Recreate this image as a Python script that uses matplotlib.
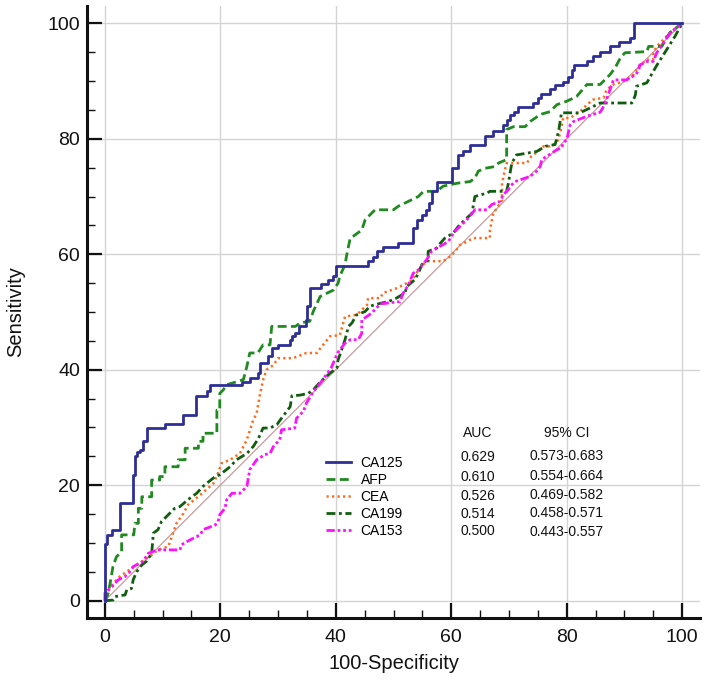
import matplotlib
matplotlib.use("Agg")
import matplotlib.pyplot as plt
from matplotlib.ticker import MultipleLocator

plt.rcParams['font.family'] = ['Liberation Sans', 'DejaVu Sans']

# ---------------- data ----------------
markers = ["CA125", "AFP", "CEA", "CA199", "CA153"]
auc = ["0.629", "0.610", "0.526", "0.514", "0.500"]
ci95 = ["0.573-0.683", "0.554-0.664", "0.469-0.582", "0.458-0.571", "0.443-0.557"]

# CA125: step points (x of jump, sensitivity after jump)
ca125_x = [0, 0, 0.4, 1.2, 2.7, 4.8, 5.2, 5.6, 6.1, 6.6, 7.3, 10.4, 13.5, 15.8, 17.7, 18.2,
           23.7, 25.1, 26.6, 26.9, 28.3, 28.9, 30.0, 32.1, 32.4, 32.9, 33.7, 34.9, 35.1, 35.5,
           37.5, 38.7, 39.6, 40.0, 45.6, 46.5, 47.2, 48.2, 50.8, 53.3, 54.1, 54.9, 55.6, 56.2,
           56.6, 57.6, 60.1, 61.2, 62.1, 63.3, 65.9, 67.3, 68.9, 69.6, 70.2, 70.8, 71.6, 74.2,
           75.1, 75.5, 77.1, 78.0, 79.4, 80.3, 80.9, 81.2, 83.5, 84.6, 85.8, 87.5, 89.0, 91.0,
           91.6, 100]
ca125_y = [0, 9.9, 11.4, 12.3, 16.9, 21.8, 25.0, 25.8, 26.1, 27.6, 29.9, 30.6, 32.2, 35.5, 36.3, 37.3,
           37.8, 38.5, 39.4, 41.1, 42.3, 43.7, 44.3, 45.1, 45.8, 46.3, 47.5, 48.6, 51.0, 54.1,
           54.9, 55.6, 56.2, 58.0, 58.8, 59.6, 60.5, 61.2, 62.0, 64.5, 66.0, 66.8, 67.7, 68.8,
           70.9, 72.6, 74.9, 77.2, 77.8, 79.0, 80.5, 81.3, 82.4, 83.2, 84.2, 84.7, 85.5, 86.2,
           87.1, 87.8, 88.6, 89.4, 89.9, 90.7, 92.0, 92.7, 93.4, 94.3, 95.1, 96.0, 96.7, 97.4,
           100, 100]

afp_x = [0, 0.5, 0.9, 1.4, 2.0, 2.9, 2.9, 5.0, 5.2, 5.8, 5.8, 6.4, 6.4, 8.1, 8.1, 9.5, 9.5, 10.4,
         10.4, 12.7, 12.7, 13.9, 13.9, 16.2, 16.2, 17.0, 17.0, 19.4, 19.4, 19.9, 19.9, 20.5, 21.1,
         23.1, 24.0, 24.6, 25.1, 26.5, 27.4, 28.6, 28.9, 33.0, 33.8, 35.5, 36.1, 37.3, 39.6, 40.4,
         40.7, 41.6, 41.9, 42.5, 43.0, 44.5, 45.1, 46.8, 50.0, 50.8, 54.3, 55.2, 57.5, 58.6, 61.0,
         63.3, 64.1, 64.7, 65.9, 67.6, 68.2, 69.6, 69.6, 70.8, 72.8, 73.7, 75.4, 77.1, 78.3, 80.0,
         81.7, 83.5, 85.8, 87.5, 88.4, 89.3, 90.1, 93.9, 94.2, 96.5, 97.1, 97.9, 100]
afp_y = [0, 1.0, 3.0, 5.9, 7.6, 8.5, 11.4, 11.4, 13.4, 13.4, 16.0, 16.0, 18.0, 18.0, 20.9, 20.9,
         21.5, 21.5, 23.2, 23.2, 24.4, 24.4, 26.4, 26.4, 27.6, 27.6, 29.0, 29.0, 33.0, 33.0, 35.9,
         36.5, 37.4, 38.0, 38.3, 40.6, 42.9, 42.9, 44.3, 44.3, 47.5, 47.5, 48.1, 48.4, 50.1, 52.7,
         53.8, 55.0, 56.2, 58.2, 59.9, 62.8, 63.1, 64.2, 66.0, 67.7, 67.7, 68.3, 70.0, 70.9, 70.9,
         71.8, 72.3, 72.6, 73.2, 74.4, 74.9, 75.2, 75.8, 76.4, 81.6, 82.1, 82.1, 83.0, 84.2, 84.7,
         85.9, 86.5, 87.3, 89.4, 89.4, 91.1, 92.3, 94.0, 94.9, 95.1, 96.0, 96.0, 97.2, 98.4, 100]

cea_x = [0, 0.4, 0.9, 2.6, 4.6, 6.9, 8.1, 9.2, 11.0, 11.6, 12.4, 13.6, 14.4, 16.5, 18.8, 19.6,
         20.2, 21.7, 23.4, 24.6, 25.7, 26.3, 26.9, 27.4, 28.0, 29.2, 30.0, 32.6, 34.9, 36.7, 37.8,
         39.0, 40.7, 41.3, 41.6, 43.6, 45.4, 45.6, 47.7, 48.2, 50.5, 52.9, 53.7, 54.3, 55.7, 58.6,
         59.8, 60.7, 61.5, 62.7, 63.8, 66.7, 66.7, 67.3, 67.9, 68.8, 68.8, 69.3, 69.6, 73.1, 73.9,
         75.4, 76.0, 77.1, 78.3, 78.9, 79.4, 80.6, 82.3, 83.5, 84.6, 86.4, 86.9, 88.1, 89.8, 91.6,
         92.4, 93.9, 95.0, 95.0, 95.6, 96.8, 97.9, 100]
cea_y = [0, 1.2, 2.4, 4.2, 5.6, 7.1, 7.9, 8.8, 9.4, 11.1, 13.4, 15.1, 16.6, 18.3, 20.3, 22.1,
         23.8, 24.4, 25.5, 27.9, 31.3, 32.5, 35.9, 38.2, 40.0, 40.8, 42.0, 42.0, 42.9, 42.9, 44.3,
         45.8, 46.0, 48.1, 49.2, 49.5, 51.2, 52.4, 52.4, 53.3, 54.1, 55.3, 56.2, 57.3, 58.8, 58.8,
         59.6, 60.5, 61.6, 62.2, 62.8, 62.8, 64.2, 67.1, 68.0, 69.4, 72.3, 74.6, 75.8, 75.8, 77.0,
         78.1, 78.7, 78.7, 79.3, 81.0, 83.6, 83.6, 84.7, 85.9, 86.8, 87.1, 88.5, 89.4, 89.9, 91.1,
         92.5, 93.7, 93.7, 94.9, 96.0, 97.2, 98.4, 100]

ca199_x = [0, 1.4, 1.7, 3.5, 3.8, 4.6, 4.9, 5.5, 6.4, 7.2, 8.1, 8.4, 9.2, 9.8, 10.7, 12.1, 13.0,
           14.4, 15.9, 17.0, 19.1, 19.9, 21.7, 22.8, 24.6, 25.7, 26.6, 27.4, 28.6, 29.8, 30.6, 32.1,
           32.4, 33.8, 35.2, 36.1, 37.3, 39.0, 40.2, 40.4, 41.0, 41.6, 42.2, 42.8, 43.6, 45.1, 45.9,
           47.7, 49.1, 50.5, 52.0, 52.3, 53.7, 54.3, 54.9, 56.0, 56.0, 57.5, 58.1, 58.9, 60.4, 61.2,
           62.4, 63.6, 63.8, 64.1, 66.2, 66.7, 69.6, 69.9, 70.2, 70.5, 71.3, 74.8, 76.3, 78.0, 78.6,
           79.1, 82.3, 84.6, 85.8, 91.3, 91.6, 91.9, 92.1, 93.9, 94.5, 95.6, 97.3, 98.8, 100]
ca199_y = [0, 0.1, 0.7, 1.0, 1.9, 2.1, 3.6, 5.0, 6.2, 6.8, 8.2, 11.7, 12.3, 13.7, 14.6, 16.0, 16.3,
           17.5, 18.6, 19.8, 21.5, 21.8, 23.2, 24.4, 25.5, 26.7, 28.1, 29.9, 29.9, 30.5, 31.6, 33.6,
           35.5, 35.6, 35.9, 36.5, 37.9, 39.4, 40.3, 41.7, 43.4, 45.2, 47.5, 48.1, 49.5, 50.1, 51.0,
           51.5, 51.8, 52.4, 53.3, 54.4, 55.6, 56.7, 58.2, 59.0, 60.5, 61.1, 61.9, 62.8, 63.7, 64.8,
           66.0, 67.1, 68.3, 70.0, 70.6, 70.9, 70.9, 72.3, 74.1, 75.8, 77.2, 77.8, 78.7, 79.0, 81.3,
           84.5, 84.5, 85.6, 86.2, 86.2, 86.8, 87.6, 89.1, 89.7, 90.8, 92.7, 95.4, 97.8, 100]

ca153_x = [0, 0, 1.2, 2.3, 3.5, 4.3, 4.9, 6.6, 7.5, 9.0, 13.0, 13.3, 14.7, 16.5, 17.0, 19.1, 19.6,
           19.9, 20.8, 21.1, 22.0, 23.4, 24.6, 25.1, 26.3, 27.7, 28.6, 29.2, 30.3, 30.6, 32.9, 33.2,
           34.4, 34.9, 36.1, 37.4, 39.2, 40.3, 41.6, 42.5, 43.9, 44.5, 44.5, 46.2, 47.7, 51.1, 51.7,
           52.6, 53.4, 54.3, 55.7, 56.6, 58.1, 59.5, 60.4, 61.5, 63.0, 64.1, 66.2, 67.0, 68.5, 69.0,
           69.9, 70.2, 71.1, 73.7, 74.8, 75.4, 75.7, 76.6, 78.3, 79.1, 79.4, 80.0, 80.6, 81.2, 83.5,
           85.8, 86.4, 86.9, 87.5, 88.1, 90.4, 91.9, 92.4, 92.7, 93.9, 95.0, 95.6, 96.8, 97.9, 100]
ca153_y = [0, 1.3, 2.4, 3.6, 4.2, 5.0, 5.9, 6.8, 8.2, 8.8, 8.8, 9.7, 10.5, 11.4, 12.3, 13.1, 13.7,
           14.9, 16.0, 17.5, 18.6, 18.6, 19.8, 22.7, 24.4, 25.3, 25.5, 26.7, 27.9, 29.6, 29.9, 31.6,
           32.8, 34.2, 36.2, 37.8, 40.3, 42.9, 44.6, 45.2, 45.2, 46.3, 48.6, 49.8, 51.4, 51.8, 53.3,
           54.7, 56.7, 57.3, 59.0, 60.5, 61.4, 62.2, 63.7, 64.8, 66.3, 67.7, 67.7, 68.6, 69.2, 70.3,
           71.2, 71.8, 72.6, 73.5, 74.4, 75.2, 76.4, 77.0, 78.1, 78.4, 79.3, 79.8, 82.4, 83.0, 83.9,
           84.6, 85.6, 86.8, 88.5, 90.2, 90.2, 91.1, 91.7, 92.8, 93.4, 93.4, 94.9, 96.6, 98.3, 100]

ref_line = [0, 100]
ticks = [0, 20, 40, 60, 80, 100]

# ---------------- figure ----------------
W, H = 709, 681
fig = plt.figure(figsize=(W / 100, H / 100), dpi=100)
ax = fig.add_axes([87 / W, (H - 618) / H, (700 - 87) / W, (618 - 6) / H])

ax.set_xlim(-3.1, 103.1)
ax.set_ylim(-3.0, 103.0)

ax.plot(ref_line, ref_line, color='#c98f8f', lw=0.8, zorder=2)

l1, = ax.plot(ca125_x, ca125_y, drawstyle='steps-post', color='#2e2e96', lw=2.0, zorder=6,
              label=markers[0])
l2, = ax.plot(afp_x, afp_y, color='#1f8a1f', lw=2.0, ls=(0, (3.2, 1.6)), zorder=5,
              label=markers[1])
l3, = ax.plot(cea_x, cea_y, color='#ff6a1a', lw=1.8, ls=(0, (0.9, 1.3)), zorder=4,
              label=markers[2])
l4, = ax.plot(ca199_x, ca199_y, color='#0e5e0e', lw=2.0, ls=(0, (3.2, 1.3, 1.0, 1.3)), zorder=4,
              label=markers[3])
l5, = ax.plot(ca153_x, ca153_y, color='#ff10ff', lw=2.0,
              ls=(0, (3.0, 1.0, 1.0, 1.0, 1.0, 1.0)), zorder=5, label=markers[4])

# axes styling
for s in ['top', 'right']:
    ax.spines[s].set_visible(False)
for s in ['left', 'bottom']:
    ax.spines[s].set_linewidth(2.2)
    ax.spines[s].set_color('#111111')

ax.xaxis.set_major_locator(plt.FixedLocator(ticks))
ax.yaxis.set_major_locator(plt.FixedLocator(ticks))
ax.xaxis.set_minor_locator(plt.FixedLocator([m for m in range(5, 100, 5) if m % 20]))
ax.yaxis.set_minor_locator(plt.FixedLocator([m for m in range(5, 100, 5) if m % 20]))
ax.tick_params(which='major', direction='in', length=11, width=1.6, color='#111111',
               labelsize=14, labelcolor='#111111')
ax.tick_params(which='minor', direction='in', length=5.5, width=1.0, color='#111111')
ax.tick_params(axis='x', which='major', pad=8)
ax.tick_params(axis='y', which='major', pad=5)

ax.grid(True, which='major', color='#d4d4d4', lw=1.0, zorder=0)
ax.set_axisbelow(True)

ax.set_xlabel("100-Specificity", fontsize=14.5, color='#111111', labelpad=6)
ax.set_ylabel("Sensitivity", fontsize=14.5, color='#111111', labelpad=16)

leg = ax.legend(handles=[l1, l2, l3, l4, l5], loc='upper left',
                bbox_to_anchor=(326 / W, 1 - 456 / H), bbox_transform=fig.transFigure,
                frameon=False, fontsize=10, borderpad=0, borderaxespad=0,
                handlelength=1.8, handletextpad=0.7, labelspacing=0.22)

# AUC table
fig.text(478 / W, 1 - 433 / H, "AUC", fontsize=10, ha='center', va='center', color='#111111')
fig.text(567 / W, 1 - 433 / H, "95% CI", fontsize=10, ha='center', va='center', color='#111111')
row_y_auc = [457, 477, 496, 514, 531]
row_y_ci = [456, 476, 495, 513, 532]
for a, c, ya, yc in zip(auc, ci95, row_y_auc, row_y_ci):
    fig.text(478 / W, 1 - ya / H, a, fontsize=10, ha='center', va='center', color='#111111')
    fig.text(567 / W, 1 - yc / H, c, fontsize=10, ha='center', va='center', color='#111111')

fig.savefig("out.png", dpi=100)
